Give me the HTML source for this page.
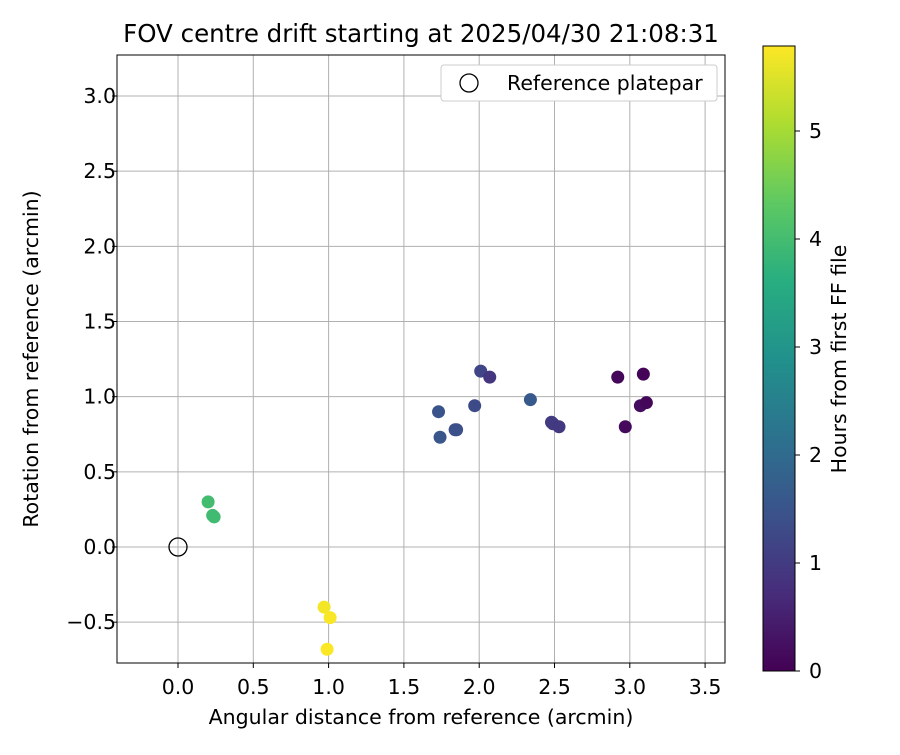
<!DOCTYPE html>
<html><head><meta charset="utf-8"><style>
body{margin:0;background:#fff;}
svg text{font-family:"DejaVu Sans","Liberation Sans",sans-serif;fill:#000;}
</style></head><body>
<svg id="c" width="900" height="750" xmlns="http://www.w3.org/2000/svg">
<defs><linearGradient id="vg" x1="0" y1="1" x2="0" y2="0">
<stop offset="0" stop-color="#440154"/><stop offset="0.125" stop-color="#472d7b"/><stop offset="0.25" stop-color="#3b528b"/><stop offset="0.375" stop-color="#2c728e"/><stop offset="0.5" stop-color="#21918c"/><stop offset="0.625" stop-color="#28ae80"/><stop offset="0.75" stop-color="#5ec962"/><stop offset="0.875" stop-color="#addc30"/><stop offset="1" stop-color="#fde725"/></linearGradient></defs>
<text x="421" y="42" font-size="24.5" text-anchor="middle">FOV centre drift starting at 2025/04/30 21:08:31</text>
<g id="grid"></g><g id="pts"></g>
<rect x="117" y="55" width="608" height="608" fill="none" stroke="#000" stroke-width="1"/>
<g id="ticks"></g>
<text x="421" y="724" font-size="20.5" text-anchor="middle">Angular distance from reference (arcmin)</text>
<text transform="translate(38,359) rotate(-90)" font-size="20.5" text-anchor="middle">Rotation from reference (arcmin)</text>
<g>
<rect x="441" y="65" width="276" height="36" rx="3" fill="#fff" stroke="#ccc"/>
<circle cx="469" cy="83" r="9" fill="none" stroke="#000" stroke-width="1.3"/>
<text x="507" y="90" font-size="20.5">Reference platepar</text></g>
<rect x="763" y="46" width="32" height="625" fill="url(#vg)" stroke="#000"/>
<g id="cb"></g>
<text transform="translate(846,359) rotate(-90)" font-size="20.5" text-anchor="middle">Hours from first FF file</text>
</svg>
<script>
const xs=[0.20,0.23,0.24,0.97,1.01,0.99,1.73,1.74,1.84,1.85,1.97,2.01,2.07,2.34,2.48,2.49,2.53,2.92,3.09,3.07,3.11,2.97];
const ys=[0.30,0.21,0.20,-0.40,-0.47,-0.68,0.90,0.73,0.78,0.78,0.94,1.17,1.13,0.98,0.83,0.82,0.80,1.13,1.15,0.94,0.96,0.80];
const hours=[4.0,3.95,3.95,5.7,5.75,5.78,1.5,1.55,1.4,1.4,1.3,1.2,0.9,1.6,1.0,1.0,0.95,0.1,0.05,0.2,0.1,0.15];
const xTicks=[0,0.5,1,1.5,2,2.5,3,3.5];
const yTicks=[-0.5,0,0.5,1,1.5,2,2.5,3];
const cbTicks=[0,1,2,3,4,5];
const X=v=>178+v*150.6, Y=v=>547-v*150.33, CB=v=>671-v*108;
const vir=["#440154","#472d7b","#3b528b","#2c728e","#21918c","#28ae80","#5ec962","#addc30","#fde725"];
function col(h){let t=Math.max(0,Math.min(1,h/5.79))*8,i=Math.min(7,Math.floor(t)),f=t-i;
const a=vir[i],b=vir[i+1],p=(s,k)=>parseInt(s.substr(k,2),16);
let r=[1,3,5].map(k=>Math.round(p(a,k)*(1-f)+p(b,k)*f));return `rgb(${r})`;}
const NS="http://www.w3.org/2000/svg";
function mk(tag,at,par){const e=document.createElementNS(NS,tag);for(const k in at)e.setAttribute(k,at[k]);document.getElementById(par).appendChild(e);return e;}
const fmt=v=>(v<0?"\u2212":"")+Math.abs(v).toFixed(1);
xTicks.forEach(v=>{const g=mk('line',{x1:X(v),x2:X(v),y1:55,y2:663,stroke:'#b0b0b0','stroke-width':1},'grid');

const t=mk('line',{x1:X(v),x2:X(v),y1:663,y2:668,stroke:'#000'},'ticks');

const l=mk('text',{x:X(v),y:694,'font-size':20.5,'text-anchor':'middle'},'ticks');l.textContent=fmt(v);
});
yTicks.forEach(v=>{const g=mk('line',{x1:117,x2:725,y1:Y(v),y2:Y(v),stroke:'#b0b0b0','stroke-width':1},'grid');

const t=mk('line',{x1:112,x2:117,y1:Y(v),y2:Y(v),stroke:'#000'},'ticks');

const l=mk('text',{x:116,y:Y(v)+7,'font-size':20.5,'text-anchor':'end'},'ticks');l.textContent=fmt(v);
});
mk('circle',{cx:X(0),cy:Y(0),r:9,fill:'none',stroke:'#000','stroke-width':1.3},'pts');
xs.forEach((x,i)=>{const c=mk('circle',{cx:X(x),cy:Y(ys[i]),r:6.5,fill:col(hours[i])},'pts');
});
cbTicks.forEach(v=>{const t=mk('line',{x1:795,x2:800,y1:CB(v),y2:CB(v),stroke:'#000'},'cb');

const l=mk('text',{x:809,y:CB(v)+7,'font-size':20.5},'cb');l.textContent=v;
});
</script>
</body></html>
